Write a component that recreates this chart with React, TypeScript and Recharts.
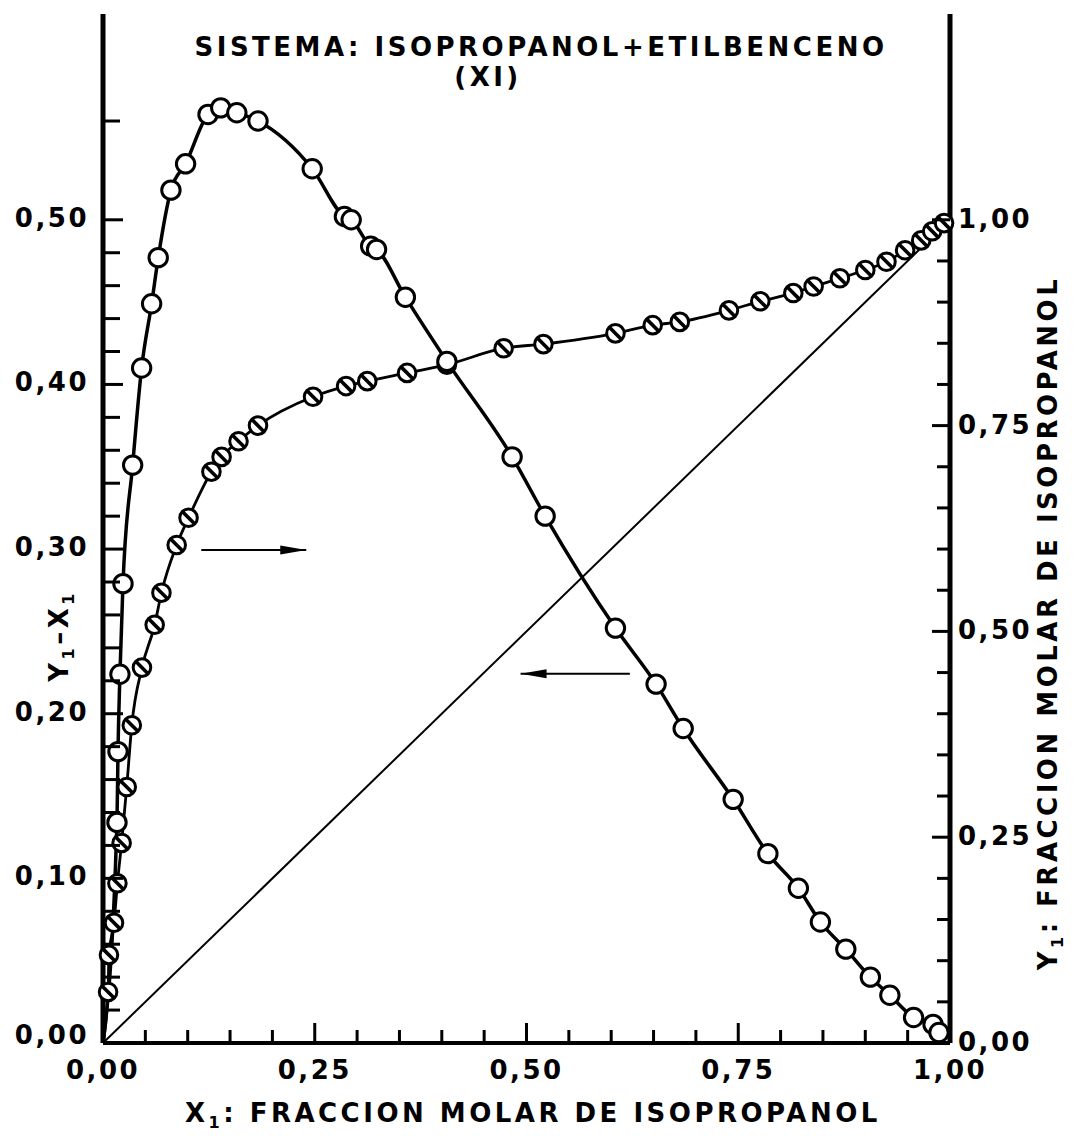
import { ComposedChart, Line, Scatter, XAxis, YAxis } from 'recharts';

// Y1 - X1 (eje izquierdo), circulos abiertos
const difX = [0.0165, 0.0177, 0.020, 0.0236, 0.035, 0.0456, 0.0574, 0.0652, 0.0802, 0.0975, 0.124, 0.139, 0.158, 0.183, 0.247, 0.285, 0.293, 0.316, 0.323, 0.357, 0.406, 0.483, 0.522, 0.605, 0.653, 0.685, 0.744, 0.785, 0.821, 0.847, 0.877, 0.906, 0.929, 0.957, 0.980, 0.987];
const difY = [0.134, 0.177, 0.224, 0.279, 0.351, 0.410, 0.449, 0.477, 0.518, 0.534, 0.564, 0.568, 0.565, 0.560, 0.531, 0.502, 0.500, 0.484, 0.482, 0.453, 0.414, 0.356, 0.320, 0.252, 0.218, 0.191, 0.148, 0.115, 0.094, 0.0735, 0.057, 0.040, 0.029, 0.0155, 0.0113, 0.0064];

// Y1 (eje derecho), circulos rayados
const vapX = [0.006, 0.007, 0.013, 0.017, 0.022, 0.028, 0.034, 0.046, 0.061, 0.069, 0.087, 0.101, 0.128, 0.140, 0.160, 0.183, 0.248, 0.287, 0.312, 0.359, 0.406, 0.473, 0.520, 0.605, 0.649, 0.681, 0.739, 0.776, 0.815, 0.839, 0.870, 0.900, 0.925, 0.947, 0.966, 0.979, 0.993];
const vapY = [0.062, 0.107, 0.146, 0.194, 0.243, 0.311, 0.386, 0.456, 0.508, 0.547, 0.605, 0.638, 0.694, 0.712, 0.731, 0.750, 0.785, 0.798, 0.804, 0.814, 0.824, 0.844, 0.849, 0.862, 0.872, 0.876, 0.890, 0.901, 0.911, 0.919, 0.929, 0.939, 0.949, 0.963, 0.975, 0.986, 0.996];

// flechas (x inicio, x punta, nivel en eje izquierdo)
const arrowRight = { from: 0.116, to: 0.240, y: 0.2995 };
const arrowLeft = { from: 0.622, to: 0.493, y: 0.2243 };

const xTicks = Array.from({ length: 21 }, (_, i) => i * 0.05);
const leftTicks = [...Array.from({ length: 26 }, (_, i) => i * 0.02), 0.56];
const rightTicks = Array.from({ length: 21 }, (_, i) => i * 0.05);

const difRows = difX.map((x, i) => ({ x, y: difY[i] }));
const vapRows = vapX.map((x, i) => ({ x, y: vapY[i] }));
const difCurve = [{ x: 0, y: 0 }, ...difRows];
const vapCurve = [{ x: 0, y: 0 }, ...vapRows, { x: 1, y: 1 }];
const diagonal = [{ x: 0, y: 0 }, { x: 1, y: 1 }];

const FONT = "'DejaVu Sans', sans-serif";
const fmt = (v: number) => v.toFixed(2).replace('.', ',');
const isMult = (v: number, step: number) => Math.abs(v / step - Math.round(v / step)) < 1e-6;

const txt = { fontFamily: FONT, fontWeight: 700, fontSize: 26, letterSpacing: 2.5, fill: '#000' };

const XTick = (props: any) => {
  const { x, y, payload } = props;
  const major = isMult(payload.value, 0.25);
  return (
    <g>
      <line x1={x} x2={x} y1={y} y2={y - (major ? 20 : 13)} stroke="#000" strokeWidth={3} />
      {major && <text x={x} y={y + 36} textAnchor="middle" style={txt}>{fmt(payload.value)}</text>}
    </g>
  );
};

const LeftTick = (props: any) => {
  const { x, y, payload } = props;
  const major = isMult(payload.value, 0.1);
  const lift = payload.value === 0 ? -6 : 0;
  return (
    <g>
      <line x1={x} x2={x + (major ? 20 : 17)} y1={y} y2={y} stroke="#000" strokeWidth={3} />
      {major && <text x={x - 14} y={y + 7 + lift} textAnchor="end" style={txt}>{fmt(payload.value)}</text>}
    </g>
  );
};

const RightTick = (props: any) => {
  const { x, y, payload } = props;
  const major = isMult(payload.value, 0.25);
  return (
    <g>
      <line x1={x} x2={x - (major ? 18 : 13)} y1={y} y2={y} stroke="#000" strokeWidth={3} />
      {major && <text x={x + 8} y={y + 8} textAnchor="start" style={txt}>{fmt(payload.value)}</text>}
    </g>
  );
};

const OpenDot = (p: any) => (
  <circle cx={p.cx} cy={p.cy} r={9.2} fill="#fff" stroke="#000" strokeWidth={3} />
);

const HatchDot = (p: any) => (
  <g>
    <circle cx={p.cx} cy={p.cy} r={8.8} fill="#fff" stroke="#000" strokeWidth={3} />
    <line x1={p.cx - 6.3} y1={p.cy - 6.3} x2={p.cx + 6.3} y2={p.cy + 6.3} stroke="#000" strokeWidth={3.6} />
  </g>
);

const HeadRight = (p: any) => (
  <polygon points={`${p.cx},${p.cy} ${p.cx - 26},${p.cy - 4.5} ${p.cx - 26},${p.cy + 4.5}`} fill="#000" />
);
const HeadLeft = (p: any) => (
  <polygon points={`${p.cx},${p.cy} ${p.cx + 26},${p.cy - 4.5} ${p.cx + 26},${p.cy + 4.5}`} fill="#000" />
);

const App = () => {
  const labelStyle = { fontFamily: FONT, fontWeight: 700, fontSize: 26, letterSpacing: 3.5, fill: '#000' };
  return (
    <div style={{ position: 'absolute', left: 0, top: 0, width: 1075, height: 1136, background: '#fff' }}>
      <ComposedChart width={1075} height={1136} margin={{ top: 14, right: 0, bottom: 0, left: 0 }}>
        <XAxis
          type="number" dataKey="x" domain={[0, 1]} ticks={xTicks} interval={0} height={93}
          tickSize={0} tickMargin={0} tickLine={false} tick={XTick}
          axisLine={{ stroke: '#000', strokeWidth: 4 }}
        />
        <YAxis
          yAxisId="left" orientation="left" type="number" domain={[0, 0.625]} ticks={leftTicks}
          interval={0} width={103} tickSize={0} tickMargin={0} tickLine={false} tick={LeftTick}
          axisLine={{ stroke: '#000', strokeWidth: 5 }}
        />
        <YAxis
          yAxisId="right" orientation="right" type="number" domain={[0, 1.25]} ticks={rightTicks}
          interval={0} width={125} tickSize={0} tickMargin={0} tickLine={false} tick={RightTick}
          axisLine={{ stroke: '#000', strokeWidth: 5 }}
        />

        <Line yAxisId="right" data={diagonal} dataKey="y" type="linear" stroke="#000" strokeWidth={2} dot={false} isAnimationActive={false} />
        <Line yAxisId="right" data={vapCurve} dataKey="y" type="monotone" stroke="#000" strokeWidth={2.8} dot={false} isAnimationActive={false} />
        <Line yAxisId="left" data={difCurve} dataKey="y" type="monotone" stroke="#000" strokeWidth={3.5} dot={false} isAnimationActive={false} />
        <Line yAxisId="left" data={[{ x: arrowRight.from, y: arrowRight.y }, { x: arrowRight.to, y: arrowRight.y }]} dataKey="y" type="linear" stroke="#000" strokeWidth={2} dot={false} isAnimationActive={false} />
        <Line yAxisId="left" data={[{ x: arrowLeft.from, y: arrowLeft.y }, { x: arrowLeft.to, y: arrowLeft.y }]} dataKey="y" type="linear" stroke="#000" strokeWidth={2} dot={false} isAnimationActive={false} />

        <Scatter yAxisId="right" data={vapRows} dataKey="y" shape={HatchDot} isAnimationActive={false} />
        <Scatter yAxisId="left" data={difRows} dataKey="y" shape={OpenDot} isAnimationActive={false} />
        <Scatter yAxisId="left" data={[{ x: arrowRight.to, y: arrowRight.y }]} dataKey="y" shape={HeadRight} isAnimationActive={false} />
        <Scatter yAxisId="left" data={[{ x: arrowLeft.to, y: arrowLeft.y }]} dataKey="y" shape={HeadLeft} isAnimationActive={false} />
      </ComposedChart>

      <svg width={1075} height={1136} style={{ position: 'absolute', left: 0, top: 0, pointerEvents: 'none' }}>
        <text x={541} y={56} textAnchor="middle" style={labelStyle}>SISTEMA: ISOPROPANOL+ETILBENCENO</text>
        <text x={488} y={86} textAnchor="middle" style={labelStyle}>(XI)</text>
        <text x={185} y={1122} textAnchor="start" style={labelStyle}>
          X<tspan fontSize={16} dy={6}>1</tspan><tspan dy={-6}>: FRACCION MOLAR DE ISOPROPANOL</tspan>
        </text>
        <text x={1057} y={623} textAnchor="middle" transform="rotate(-90, 1057, 623)" style={labelStyle}>
          Y<tspan fontSize={16} dy={6}>1</tspan><tspan dy={-6}>: FRACCION MOLAR DE ISOPROPANOL</tspan>
        </text>
        <text x={68} y={636} textAnchor="middle" transform="rotate(-90, 68, 636)" style={labelStyle}>
          Y<tspan fontSize={16} dy={6}>1</tspan><tspan dy={-6}>–X</tspan><tspan fontSize={16} dy={6}>1</tspan>
        </text>
      </svg>
    </div>
  );
};

export default App;
